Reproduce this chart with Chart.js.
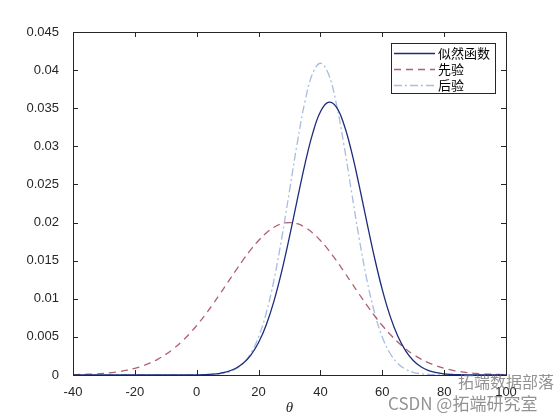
<!DOCTYPE html>
<html>
<head>
<meta charset="utf-8">
<script src="https://cdn.jsdelivr.net/npm/chart.js@4/dist/chart.umd.min.js"></script>
<style>
html,body{margin:0;padding:0;background:#fff;}
#wrap{width:560px;height:420px;position:relative;}
</style>
</head>
<body>
<div id="wrap"><canvas id="c" width="560" height="420"></canvas></div>
<script>
// ---- data ----
const theta = [-40,-37.5,-35,-32.5,-30,-27.5,-25,-22.5,-20,-17.5,-15,-12.5,-10,-7.5,-5,-2.5,
  0,2.5,5,7.5,10,12.5,15,17.5,20,22.5,25,27.5,30,32.5,35,37.5,40,42.5,45,47.5,50,52.5,55,57.5,
  60,62.5,65,67.5,70,72.5,75,77.5,80,82.5,85,87.5,90,92.5,95,97.5,100];

const likelihood = [0,0,0,0,0,0,0,0,0,0,0,0,0,0,0,0.000003,
  0.000021,0.000049,0.000108,0.000225,0.000448,0.000849,0.001529,0.002620,0.004266,0.006604,0.009727,0.013622,
  0.018143,0.022978,0.027676,0.031699,0.034527,0.035764,0.035229,0.033000,0.029397,0.024902,0.020062,0.015369,
  0.011197,0.007758,0.005111,0.003203,0.001908,0.001081,0.000582,0.000298,0.000145,0.000067,0.000030,0.000013,
  0.000005,0.000002,0,0,0];

const prior = [0.000044,0.000067,0.000102,0.000152,0.000222,0.000321,0.000456,0.000638,0.000879,0.001192,
  0.001591,0.002091,0.002707,0.003448,0.004325,0.005341,
  0.006493,0.007772,0.009157,0.010622,0.012131,0.013639,0.015097,0.016452,0.017650,0.018642,0.019385,0.019844,
  0.020000,0.019844,0.019385,0.018642,0.017650,0.016452,0.015097,0.013639,0.012131,0.010622,0.009157,0.007772,
  0.006493,0.005341,0.004325,0.003448,0.002707,0.002091,0.001591,0.001192,0.000879,0.000638,0.000456,0.000321,
  0.000222,0.000152,0.000102,0.000067,0.000044];

const posterior = [0,0,0,0,0,0,0,0,0,0,0,0,0,0,0,0,
  0.000002,0.000012,0.000065,0.000158,0.000360,0.000766,0.001528,0.002854,0.004990,0.008169,0.012525,0.017981,
  0.024172,0.030424,0.035861,0.039577,0.040900,0.039577,0.035861,0.030424,0.024172,0.017981,0.012525,0.008169,
  0.004990,0.002854,0.001528,0.000766,0.000360,0.000158,0.000065,0.000025,0.000008,0.000002,0,0,
  0,0,0,0,0];

const seriesNames = ['似然函数','先验','后验'];
const xTickLabels = ['-40','-20','0','20','40','60','80','100'];
const yTickLabels = ['0','0.005','0.01','0.015','0.02','0.025','0.03','0.035','0.04','0.045'];
const xTitle = 'θ';
const watermark1 = '拓端数据部落';
const watermark2 = 'CSDN @拓端研究室';

// ---- styles ----
const AX = '#262626';
const styles = [
  {color:'#1c2c7c', dash:[]},
  {color:'#b0606e', dash:[7,5]},
  {color:'#a8bce0', dash:[8,3,2,3]}
];
const series = [likelihood, prior, posterior];

const datasets = series.map((vals,i)=>({
  label: seriesNames[i],
  data: theta.map((t,k)=>({x:t,y:vals[k]})),
  borderColor: styles[i].color,
  borderDash: styles[i].dash,
  borderWidth: 1.3,
  pointRadius: 0,
  tension: 0.4,
  fill: false
}));

const boxPlugin = {
  id:'boxPlugin',
  afterDraw(chart){
    const ctx = chart.ctx, a = chart.chartArea;
    const xs = chart.scales.x, ys = chart.scales.y;
    ctx.save();
    ctx.strokeStyle = AX; ctx.lineWidth = 1; ctx.setLineDash([]);
    ctx.strokeRect(Math.round(a.left)+0.5, Math.round(a.top)+0.5, Math.round(a.right-a.left), Math.round(a.bottom-a.top));
    const tl = 5;
    ctx.beginPath();
    xs.ticks.forEach(t=>{
      const px = Math.round(xs.getPixelForValue(t.value))+0.5;
      ctx.moveTo(px,a.bottom); ctx.lineTo(px,a.bottom-tl);
      ctx.moveTo(px,a.top); ctx.lineTo(px,a.top+tl);
    });
    ys.ticks.forEach(t=>{
      const py = Math.round(ys.getPixelForValue(t.value))+0.5;
      ctx.moveTo(a.left,py); ctx.lineTo(a.left+tl,py);
      ctx.moveTo(a.right,py); ctx.lineTo(a.right-tl,py);
    });
    ctx.stroke();

    // legend
    const lx=391, ly=43, lw=104, lh=50;
    ctx.fillStyle='#fff';
    ctx.fillRect(lx,ly,lw,lh);
    ctx.strokeStyle=AX; ctx.lineWidth=1;
    ctx.strokeRect(lx+0.5,ly+0.5,lw,lh);
    const rows=[53,69,85];
    ctx.font='13px "Noto Sans CJK SC"';
    ctx.textBaseline='middle';
    datasets.forEach((d,i)=>{
      ctx.strokeStyle=d.borderColor; ctx.lineWidth=1.3;
      ctx.setLineDash(d.borderDash);
      ctx.beginPath(); ctx.moveTo(394,rows[i]+0.5); ctx.lineTo(435,rows[i]+0.5); ctx.stroke();
      ctx.setLineDash([]);
      ctx.fillStyle='#000';
      ctx.fillText(d.label,438,rows[i]);
    });

    // watermark
    ctx.fillStyle='rgba(110,110,110,0.75)';
    ctx.font='16px "Noto Sans CJK SC"';
    ctx.fillText(watermark1,458,382);
    ctx.font='17px "Noto Sans CJK SC"';
    ctx.fillText(watermark2,388,404);
    ctx.restore();
  }
};

new Chart(document.getElementById('c'),{
  type:'line',
  data:{datasets},
  options:{
    responsive:false,
    animation:false,
    devicePixelRatio:1,
    layout:{padding:{top:32,right:54,left:0,bottom:0}},
    plugins:{legend:{display:false},tooltip:{enabled:false}},
    scales:{
      x:{
        type:'linear', min:-40, max:100,
        grid:{display:false}, border:{display:false},
        ticks:{stepSize:20, color:AX, font:{family:'"Liberation Sans", Arial', size:13}, padding:2,
          maxRotation:0, callback:(v,i)=>xTickLabels[i]},
        title:{display:true, text:xTitle, color:AX, font:{family:'"Liberation Serif", serif', size:15, style:'italic'}, padding:{top:0,bottom:3}},
        afterFit(s){ s.height = 45; }
      },
      y:{
        min:0, max:0.045,
        grid:{display:false}, border:{display:false},
        ticks:{stepSize:0.005, color:AX, font:{family:'"Liberation Sans", Arial', size:13}, padding:6,
          callback:(v,i)=>yTickLabels[i]},
        afterFit(s){ s.width = 73; }
      }
    }
  },
  plugins:[boxPlugin]
});
</script>
</body>
</html>
